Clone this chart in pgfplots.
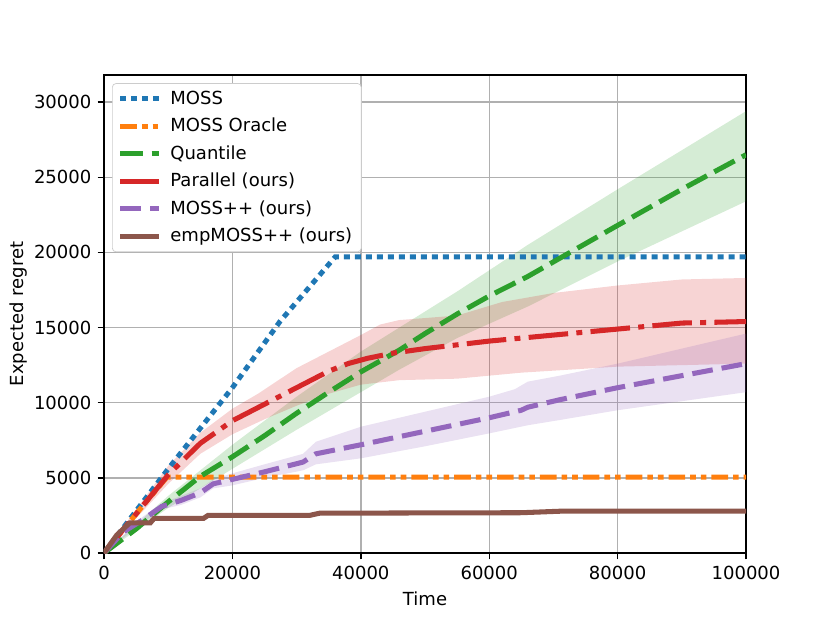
\documentclass[border=0pt]{standalone}
\usepackage{fontspec}
\setmainfont{DejaVu Sans}
\usepackage{pgfplots}
\pgfplotsset{compat=1.18}
\definecolor{c0}{HTML}{1F77B4}
\definecolor{c1}{HTML}{FF7F0E}
\definecolor{c2}{HTML}{2CA02C}
\definecolor{c3}{HTML}{D62728}
\definecolor{c4}{HTML}{9467BD}
\definecolor{c5}{HTML}{8C564B}
\definecolor{gridgray}{HTML}{B0B0B0}
\definecolor{leggray}{HTML}{CCCCCC}
\definecolor{legfill}{HTML}{FFFFFF}
\begin{document}
\begin{tikzpicture}
\path[use as bounding box] (-57.73pt,-38.86pt) rectangle (403.0pt,306.97pt);
\begin{axis}[
  at={(0,0)}, anchor=south west, scale only axis,
  width=356.4pt, height=265.3pt,
  xmin=0, xmax=100000, ymin=0, ymax=31800,
  scaled ticks=false,
  xtick={0,20000,40000,60000,80000,100000},
  xticklabels={0,20000,40000,60000,80000,100000},
  ytick={0,5000,10000,15000,20000,25000,30000},
  yticklabels={0,5000,10000,15000,20000,25000,30000},
  tick align=outside, tick pos=left,
  major tick length=3.5pt,
  major tick style={black, line width=0.8pt},
  axis line style={line width=0.8pt},
  xmajorgrids, ymajorgrids,
  major grid style={color=gridgray, line width=0.8pt},
  xlabel={Time}, ylabel={Expected regret},
  ylabel style={yshift=-3.3pt},
  label style={font=\fontsize{10}{12}\selectfont},
  tick label style={font=\fontsize{10}{12}\selectfont},
  legend style={at={(0.0125,0.983)}, anchor=north west, draw=leggray,
    rounded corners=2pt, fill=legfill,
    inner xsep=3pt, inner ysep=2pt, row sep=2.2pt,
    font=\fontsize{10}{12}\selectfont, cells={anchor=west}},
  legend image code/.code={\draw[#1] (0pt,0pt) -- (21.6pt,0pt); \path (24.4pt,0pt);},
]
% bands
\addplot[fill=c2, fill opacity=0.2, draw=none, forget plot] coordinates {
 (0,0) (10000,3800) (20000,7200) (30000,10400) (40000,13400) (55000,17400) (66000,20500) (80000,24200) (90000,26800) (100000,29400)
 (100000,23400) (90000,21400) (80000,19400) (66000,16400) (55000,14300) (46000,12200) (40000,10700) (30000,8200) (20000,5600) (10000,3000) (0,0)};
\addplot[fill=c3, fill opacity=0.2, draw=none, forget plot] coordinates {
 (0,0) (5000,2900) (10000,5800) (15000,8000) (20000,9600) (24000,10600) (30000,12300) (35000,13400) (40000,14500) (43000,15200) (46000,15500) (55000,15800) (62000,16700) (70000,17300) (80000,17800) (90000,18200) (100000,18300)
 (100000,12600) (80000,12400) (65000,12000) (55000,11600) (46000,11500) (40000,11200) (35000,10600) (30000,9800) (25000,8900) (20000,7900) (15000,6600) (10000,4600) (5000,2300) (0,0)};
\addplot[fill=c4, fill opacity=0.2, draw=none, forget plot] coordinates {
 (0,0) (6000,2400) (9000,3300) (12000,3800) (15000,4300) (17000,4900) (20000,5300) (25000,5900) (31000,6600) (33000,7400) (40000,8400) (50000,9400) (60000,10400) (64000,10900) (66000,11400) (71000,11800) (80000,12600) (90000,13600) (100000,14600)
 (100000,10700) (90000,10100) (80000,9500) (71000,8850) (66000,8500) (60000,7960) (50000,7100) (40000,6300) (33000,5900) (31000,5500) (25000,5000) (20000,4500) (17000,4300) (15000,3700) (12000,3200) (9000,2900) (6000,2000) (0,0)};
% lines
\addplot[c0, line width=2.8pt, dash pattern=on 3.3pt off 2.8pt] coordinates {
 (0,0) (5000,2800) (10000,5600) (20000,11000) (27400,15400) (36000,19700) (100000,19700)};
\addlegendentry{MOSS}
\addplot[c1, line width=2.8pt, dash pattern=on 9.2pt off 2.8pt on 3.1pt off 2.8pt on 3.1pt off 2.8pt] coordinates {
 (0,0) (5000,2600) (9800,5050) (100000,5050)};
\addlegendentry{MOSS Oracle}
\addplot[c2, line width=2.8pt, dash pattern=on 12.8pt off 4.6pt] coordinates {
 (0,0) (5000,1600) (10000,3400) (15000,5100) (20000,6400) (25000,7800) (30000,9300) (35000,10700) (40000,12050) (46000,13500) (50000,14600) (55000,15900) (60000,17100) (66000,18400) (80000,21800) (90000,24200) (100000,26500)};
\addlegendentry{Quantile}
\addplot[c3, line width=2.8pt, dash pattern=on 22pt off 4.6pt on 3.3pt off 4.6pt] coordinates {
 (0,0) (5000,2600) (10000,5200) (15000,7300) (20000,8800) (25000,9900) (30000,11000) (35000,12100) (38000,12600) (41000,12950) (45000,13300) (50000,13600) (60000,14100) (70000,14500) (80000,14900) (90000,15300) (100000,15400)};
\addlegendentry{Parallel (ours)}
\addplot[c4, line width=2.8pt, dash pattern=on 11.5pt off 5pt] coordinates {
 (0,0) (3000,1400) (6000,2200) (9000,3100) (12000,3500) (15000,4000) (17000,4600) (20000,4900) (25000,5400) (31000,6050) (33000,6600) (40000,7200) (50000,8100) (60000,9000) (65000,9500) (66000,9700) (71000,10200) (80000,11000) (90000,11800) (100000,12600)};
\addlegendentry{MOSS++ (ours)}
\addplot[c5, line width=2.8pt] coordinates {
 (0,0) (2000,1200) (4000,2000) (7200,2000) (7800,2300) (15500,2300) (16200,2500) (32000,2500) (33600,2650) (65000,2680) (71000,2780) (100000,2780)};
\addlegendentry{empMOSS++ (ours)}
\end{axis}
\end{tikzpicture}
\end{document}
